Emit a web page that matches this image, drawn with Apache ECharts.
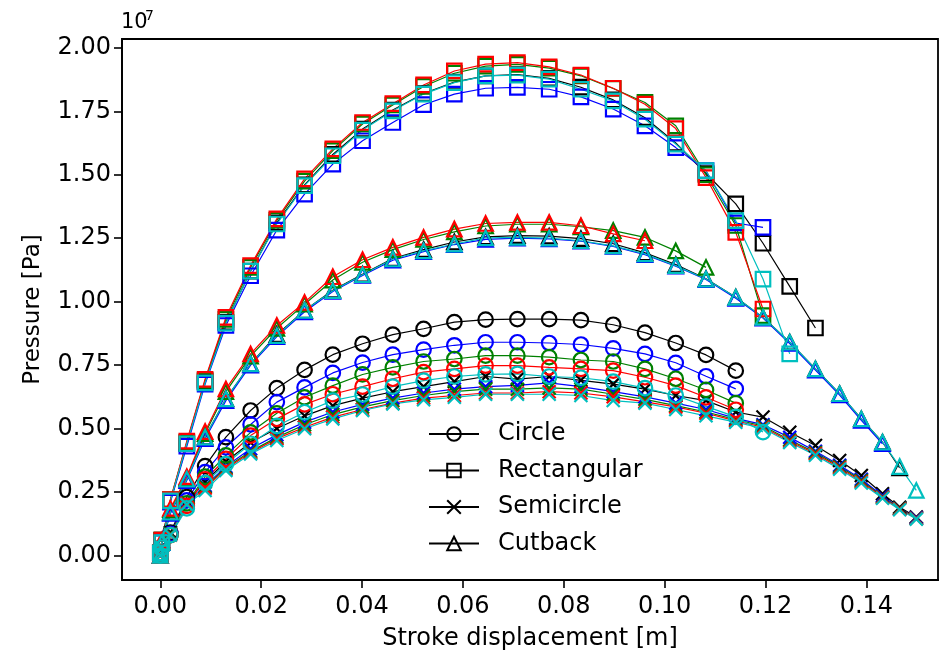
<!DOCTYPE html>
<html>
<head>
<meta charset="utf-8">
<script src="https://cdn.jsdelivr.net/npm/echarts@6/dist/echarts.min.js"></script>
<style>
html,body{margin:0;padding:0;background:#fff;}
#chart{width:951px;height:656px;}
</style>
</head>
<body>
<div id="chart"></div>
<script>
// Stroke displacement grid [m]
const xStroke = [0, 0.0003, 0.0020, 0.00525, 0.00888, 0.0130, 0.0179, 0.0231, 0.0286, 0.0342,
  0.0401, 0.0461, 0.0522, 0.0583, 0.0645, 0.0708, 0.0771, 0.0834, 0.0898, 0.0961,
  0.1022, 0.1082, 0.1141, 0.1195, 0.1248, 0.1299, 0.1347, 0.1390, 0.1432, 0.1466, 0.1499];

// Pressure values in units of 1e7 Pa
const circleBlack = [0, 0.03, 0.09, 0.230, 0.352, 0.466, 0.571, 0.659, 0.731, 0.791, 0.834, 0.870, 0.893, 0.919, 0.929, 0.931, 0.931, 0.927, 0.909, 0.878, 0.837, 0.790, 0.728];
const circleBlue = [0, 0.03, 0.085, 0.217, 0.328, 0.426, 0.516, 0.604, 0.662, 0.719, 0.760, 0.791, 0.811, 0.828, 0.840, 0.840, 0.837, 0.831, 0.816, 0.794, 0.759, 0.706, 0.656];
const circleGreen = [0, 0.03, 0.08, 0.205, 0.31, 0.394, 0.485, 0.560, 0.623, 0.669, 0.713, 0.741, 0.764, 0.774, 0.787, 0.787, 0.781, 0.770, 0.764, 0.735, 0.696, 0.652, 0.600];
const circleRed = [0, 0.03, 0.08, 0.195, 0.30, 0.38, 0.472, 0.538, 0.595, 0.635, 0.665, 0.696, 0.722, 0.735, 0.748, 0.748, 0.741, 0.735, 0.728, 0.702, 0.669, 0.623, 0.574];
const circleCyan = [0, 0.03, 0.08, 0.185, 0.285, 0.36, 0.44, 0.51, 0.564, 0.61, 0.634, 0.665, 0.689, 0.705, 0.713, 0.715, 0.705, 0.700, 0.685, 0.659, 0.630, 0.587, 0.546, 0.486];

const rectBlack = [0.01, 0.06, 0.215, 0.44, 0.685, 0.918, 1.12, 1.31, 1.46, 1.58, 1.68, 1.755, 1.82, 1.865, 1.89, 1.895, 1.88, 1.845, 1.795, 1.725, 1.625, 1.505, 1.385, 1.23, 1.06, 0.896];
const rectBlue = [0.01, 0.05, 0.21, 0.43, 0.675, 0.906, 1.102, 1.282, 1.424, 1.542, 1.634, 1.706, 1.776, 1.818, 1.841, 1.844, 1.837, 1.807, 1.759, 1.693, 1.607, 1.516, 1.31, 1.293];
const rectGreen = [0.01, 0.06, 0.22, 0.445, 0.69, 0.93, 1.135, 1.32, 1.475, 1.595, 1.70, 1.775, 1.848, 1.90, 1.928, 1.935, 1.92, 1.89, 1.84, 1.785, 1.693, 1.50, 1.30, 0.945];
const rectRed = [0.01, 0.06, 0.22, 0.45, 0.694, 0.938, 1.142, 1.326, 1.484, 1.602, 1.706, 1.78, 1.854, 1.909, 1.936, 1.942, 1.925, 1.893, 1.841, 1.778, 1.682, 1.489, 1.273, 0.971];
const rectCyan = [0.01, 0.05, 0.215, 0.44, 0.68, 0.915, 1.12, 1.306, 1.457, 1.575, 1.676, 1.752, 1.818, 1.863, 1.89, 1.893, 1.877, 1.837, 1.791, 1.719, 1.621, 1.516, 1.319, 1.089, 0.794];

const semiBlack = [0, 0.03, 0.09, 0.21, 0.29, 0.37, 0.445, 0.50, 0.55, 0.59, 0.62, 0.645, 0.665, 0.685, 0.705, 0.695, 0.705, 0.69, 0.675, 0.655, 0.63, 0.61, 0.565, 0.545, 0.485, 0.433, 0.374, 0.315, 0.243, 0.19, 0.151];
const semiBlue = [0, 0.03, 0.085, 0.205, 0.275, 0.35, 0.42, 0.475, 0.525, 0.565, 0.595, 0.62, 0.64, 0.655, 0.665, 0.67, 0.68, 0.665, 0.645, 0.625, 0.60, 0.575, 0.54, 0.515, 0.465, 0.41, 0.355, 0.30, 0.235, 0.185, 0.148];
const semiGreen = [0, 0.03, 0.085, 0.205, 0.27, 0.345, 0.41, 0.465, 0.515, 0.555, 0.585, 0.61, 0.63, 0.645, 0.655, 0.655, 0.66, 0.655, 0.635, 0.615, 0.59, 0.565, 0.535, 0.51, 0.455, 0.405, 0.35, 0.295, 0.23, 0.185, 0.145];
const semiRed = [0, 0.03, 0.08, 0.205, 0.265, 0.34, 0.405, 0.46, 0.505, 0.545, 0.575, 0.60, 0.62, 0.63, 0.64, 0.64, 0.645, 0.64, 0.625, 0.605, 0.585, 0.56, 0.53, 0.505, 0.45, 0.40, 0.345, 0.29, 0.228, 0.183, 0.145];
const semiCyan = [0, 0.03, 0.08, 0.20, 0.256, 0.335, 0.40, 0.453, 0.499, 0.538, 0.571, 0.597, 0.613, 0.623, 0.635, 0.635, 0.635, 0.63, 0.61, 0.60, 0.575, 0.55, 0.525, 0.50, 0.445, 0.395, 0.34, 0.285, 0.225, 0.18, 0.143];

const cutBlack = [0, 0.05, 0.17, 0.30, 0.466, 0.617, 0.755, 0.87, 0.965, 1.045, 1.108, 1.17, 1.205, 1.235, 1.255, 1.26, 1.258, 1.248, 1.228, 1.192, 1.146, 1.09, 1.017, 0.938, 0.84, 0.735, 0.637, 0.538, 0.446, 0.345];
const cutBlue = [0, 0.05, 0.165, 0.295, 0.46, 0.61, 0.75, 0.862, 0.96, 1.04, 1.103, 1.163, 1.197, 1.225, 1.245, 1.25, 1.247, 1.238, 1.218, 1.185, 1.14, 1.087, 1.013, 0.935, 0.835, 0.73, 0.632, 0.532, 0.44];
const cutGreen = [0, 0.055, 0.18, 0.305, 0.48, 0.645, 0.785, 0.895, 0.99, 1.085, 1.155, 1.205, 1.245, 1.275, 1.298, 1.305, 1.305, 1.295, 1.28, 1.253, 1.20, 1.135];
const cutRed = [0, 0.06, 0.185, 0.31, 0.488, 0.656, 0.794, 0.906, 0.997, 1.098, 1.165, 1.214, 1.253, 1.286, 1.308, 1.312, 1.312, 1.299, 1.267, 1.24];
const cutCyan = [0, 0.05, 0.17, 0.30, 0.466, 0.617, 0.755, 0.866, 0.965, 1.043, 1.106, 1.168, 1.20, 1.227, 1.251, 1.253, 1.25, 1.24, 1.22, 1.188, 1.142, 1.089, 1.017, 0.938, 0.84, 0.735, 0.637, 0.538, 0.446, 0.35, 0.256];

const xTicks = [0, 0.02, 0.04, 0.06, 0.08, 0.10, 0.12, 0.14];
const yTicks = [0, 0.25, 0.5, 0.75, 1.0, 1.25, 1.5, 1.75, 2.0];
const shapeNames = ['Circle', 'Rectangular', 'Semicircle', 'Cutback'];

const FONT = 'DejaVu Sans';
const FS = 24;
const colors = {black:'#000000', blue:'#0000ff', green:'#008000', red:'#ff0000', cyan:'#00bfbf'};
const symbols = {
  Circle: 'circle',
  Rectangular: 'rect',
  Semicircle: 'path://M0,0L10,10M10,0L0,10',
  Cutback: 'triangle'
};
const dataSets = [
  ['black', [circleBlack, rectBlack, semiBlack, cutBlack]],
  ['blue', [circleBlue, rectBlue, semiBlue, cutBlue]],
  ['green', [circleGreen, rectGreen, semiGreen, cutGreen]],
  ['red', [circleRed, rectRed, semiRed, cutRed]],
  ['cyan', [circleCyan, rectCyan, semiCyan, cutCyan]]
];

function mkSeries(name, color, vals, shape) {
  return {
    type: 'line',
    name: name,
    data: vals.map((v, i) => [xStroke[i], v]),
    symbol: symbols[shape],
    symbolSize: shape === 'Semicircle' ? 13 : 14.5,
    symbolKeepAspect: true,
    showSymbol: true,
    showAllSymbol: true,
    clip: false,
    lineStyle: {color: color, width: 1.2},
    itemStyle: {color: 'transparent', borderColor: color, borderWidth: 2.2},
    emphasis: {disabled: true},
    animation: false,
    silent: true
  };
}

const series = [];
dataSets.forEach(([c, arrs]) => {
  arrs.forEach((vals, k) => {
    series.push(mkSeries(shapeNames[k] + ' ' + c, colors[c], vals, shapeNames[k]));
  });
});
// legend entries (black)
shapeNames.forEach(n => {
  series.push(Object.assign(mkSeries(n, '#000000', [], n), {data: []}));
});

const chart = echarts.init(document.getElementById('chart'), null, {renderer: 'canvas'});
chart.setOption({
  backgroundColor: '#ffffff',
  animation: false,
  grid: {left: 122, right: 13, top: 39, bottom: 76, show: true, borderColor: '#000', borderWidth: 1.8, backgroundColor: 'transparent'},
  xAxis: {
    type: 'value', min: -0.0076, max: 0.1542,
    splitLine: {show: false},
    axisLine: {show: true, onZero: false, lineStyle: {color: '#000', width: 1.8}},
    axisTick: {show: true, length: 8, lineStyle: {color: '#000', width: 1.6}, customValues: xTicks},
    axisLabel: {customValues: xTicks, formatter: v => v.toFixed(2), fontSize: FS, color: '#000', margin: 15, fontFamily: FONT},
    name: 'Stroke displacement [m]', nameLocation: 'middle', nameGap: 47,
    nameTextStyle: {fontSize: FS, color: '#000', fontFamily: FONT}
  },
  yAxis: {
    type: 'value', min: -0.097, max: 2.035,
    splitLine: {show: false},
    axisLine: {show: true, onZero: false, lineStyle: {color: '#000', width: 1.8}},
    axisTick: {show: true, length: 8, lineStyle: {color: '#000', width: 1.6}, customValues: yTicks},
    axisLabel: {customValues: yTicks, formatter: v => v.toFixed(2), fontSize: FS, color: '#000', margin: 11, fontFamily: FONT},
    name: 'Pressure [Pa]', nameLocation: 'middle', nameGap: 77,
    nameTextStyle: {fontSize: 23, color: '#000', fontFamily: FONT}
  },
  legend: {
    data: shapeNames,
    orient: 'vertical', left: 423, top: 417,
    itemWidth: 50, itemHeight: 17, itemGap: 12.5,
    selectedMode: false,
    textStyle: {fontSize: FS, lineHeight: 24, color: '#000', fontFamily: FONT, padding: [0, 0, 0, 14]}
  },
  graphic: [
    {type: 'text', left: 121, top: 12, style: {text: '10', font: '21px "DejaVu Sans"', fill: '#000'}},
    {type: 'text', left: 145, top: 9, style: {text: '7', font: '14px "DejaVu Sans"', fill: '#000'}}
  ],
  series: series
});
</script>
</body>
</html>
